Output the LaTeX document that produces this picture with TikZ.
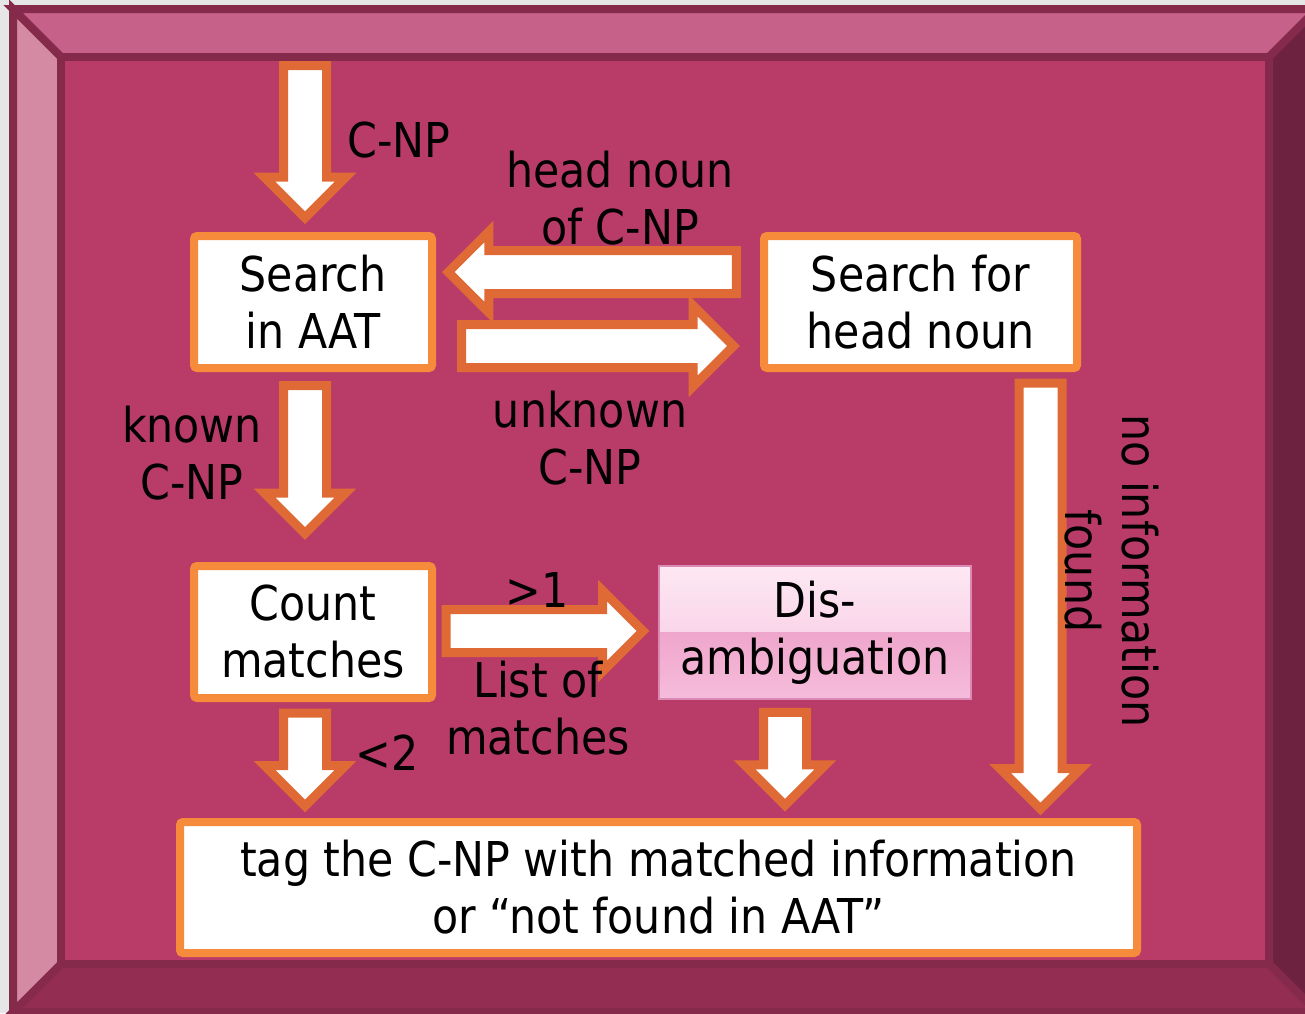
\documentclass[tikz,border=0pt]{standalone}
\usepackage{fontspec}
\setmainfont{DejaVu Sans}[FakeStretch=0.89]
\usetikzlibrary{shapes.arrows, calc}

\definecolor{slidebg}{HTML}{E6E6E6}
\definecolor{rim}{HTML}{862A4B}
\definecolor{face}{HTML}{B83C67}
\definecolor{bevtop}{HTML}{C6628A}
\definecolor{bevleft}{HTML}{D48AA2}
\definecolor{bevright}{HTML}{6D2340}
\definecolor{bevbot}{HTML}{932E52}
\definecolor{arrline}{HTML}{E06A35}
\definecolor{boxline}{HTML}{F68B3C}
\definecolor{pinkA}{HTML}{FDE8F3}
\definecolor{pinkB}{HTML}{F7C3DF}
\definecolor{pinkC}{HTML}{EFA6CC}
\definecolor{pinkD}{HTML}{F6BCDB}
\definecolor{pinkrim}{HTML}{D98AB5}

\begin{document}
\begin{tikzpicture}[x=1pt, y=-1pt,
  box/.style={draw=boxline, line width=8pt, fill=white, rounded corners=3pt,
              minimum width=238pt, minimum height=132pt, align=center,
              font=\fontsize{48}{57}\selectfont},
  pinkbox/.style={draw=pinkrim, line width=1.5pt, minimum width=312pt,
              minimum height=133pt, align=center,
              font=\fontsize{48}{57}\selectfont,
              path picture={
                \fill[top color=pinkA, bottom color=pinkB]
                  (path picture bounding box.north west) rectangle
                  (path picture bounding box.east);
                \fill[top color=pinkC, bottom color=pinkD]
                  (path picture bounding box.west) rectangle
                  (path picture bounding box.south east);}},
  lbl/.style={align=center, font=\fontsize{48}{57}\selectfont},
  blk/.style={single arrow, draw=arrline, fill=white, line width=9pt,
              inner sep=0pt, text height=17pt, text depth=17pt,
              single arrow head extend=19pt, single arrow tip angle=90}
]
  \clip (0,0) rectangle (1305,1013);
  \fill[slidebg] (0,0) rectangle (1305,1013);

  % bevelled frame
  \coordinate (o1) at (13,9);   \coordinate (o2) at (1317,9);
  \coordinate (o3) at (1317,1012); \coordinate (o4) at (13,1012);
  \coordinate (i1) at (61,57);  \coordinate (i2) at (1269,57);
  \coordinate (i3) at (1269,964); \coordinate (i4) at (61,964);
  \begin{scope}[draw=rim, line width=8pt]
    \filldraw[fill=bevtop]   (o1) -- (o2) -- (i2) -- (i1) -- cycle;
    \filldraw[fill=bevright] (o2) -- (o3) -- (i3) -- (i2) -- cycle;
    \filldraw[fill=bevbot]   (o3) -- (o4) -- (i4) -- (i3) -- cycle;
    \filldraw[fill=bevleft]  (o4) -- (o1) -- (i1) -- (i4) -- cycle;
    \filldraw[fill=face]     (i1) -- (i2) -- (i3) -- (i4) -- cycle;
  \end{scope}

  \node[box] (aat)  at (313,302)   {Search\\in AAT};
  \node[box, minimum width=313pt] (head) at (920.5,302) {Search for\\head noun};
  \node[box] (cnt)  at (313,632)   {Count\\matches};
  \node[pinkbox] (dis) at (815,632.5) {\raisebox{-4pt}{Dis-}\\\raisebox{-4pt}{ambiguation}};
  \node[box, minimum width=957pt, minimum height=131pt] (tag) at (658.5,887.5)
    {tag the C-NP with matched information\\or “not found in AAT”};

  \node[blk, rotate=-90, minimum height=152pt, anchor=tip] (inarr)
    at ($(aat.north)+(-8,-8)$) {};
  \node[blk, rotate=180, minimum height=288pt, anchor=tip] (hnarr)
    at ($(aat.east)+(6,-30)$) {};
  \node[blk, minimum height=272pt, anchor=tail] (unkarr)
    at ($(aat.east)+(21,44)$) {};
  \node[blk, rotate=-90, minimum height=148pt, anchor=tail] (knarr)
    at ($(aat.south)+(-8,9)$) {};
  \node[blk, rotate=-90, minimum height=93pt, anchor=tail] (ltarr)
    at ($(cnt.south)+(-8,6.5)$) {};
  \node[blk, minimum height=197pt, anchor=tail] (gtarr)
    at ($(cnt.east)+(5.5,-1)$) {};
  \node[blk, rotate=-90, minimum height=93pt, anchor=tail] (disarr)
    at ($(dis.south)+(-30,8)$) {};
  \node[blk, rotate=-90, minimum height=426pt, anchor=tail] (nfarr)
    at ($(head.south)+(120,6.5)$) {};

  \node[lbl] (l1) at (399,140) {C-NP};
  \node[lbl] (l2) at (620,198) {head noun\\of C-NP};
  \node[lbl] (l3) at (590,438) {unknown\\C-NP};
  \node[lbl] (l4) at (192,453) {known\\C-NP};
  \node[lbl] (l5) at (537,590) {>1};
  \node[lbl] (l6) at (538,708) {List of\\matches};
  \node[lbl] (l7) at (387,753) {<2};
  \node[lbl, rotate=-90] (l8) at (1112,571) {no information\\found};
\end{tikzpicture}
\end{document}
